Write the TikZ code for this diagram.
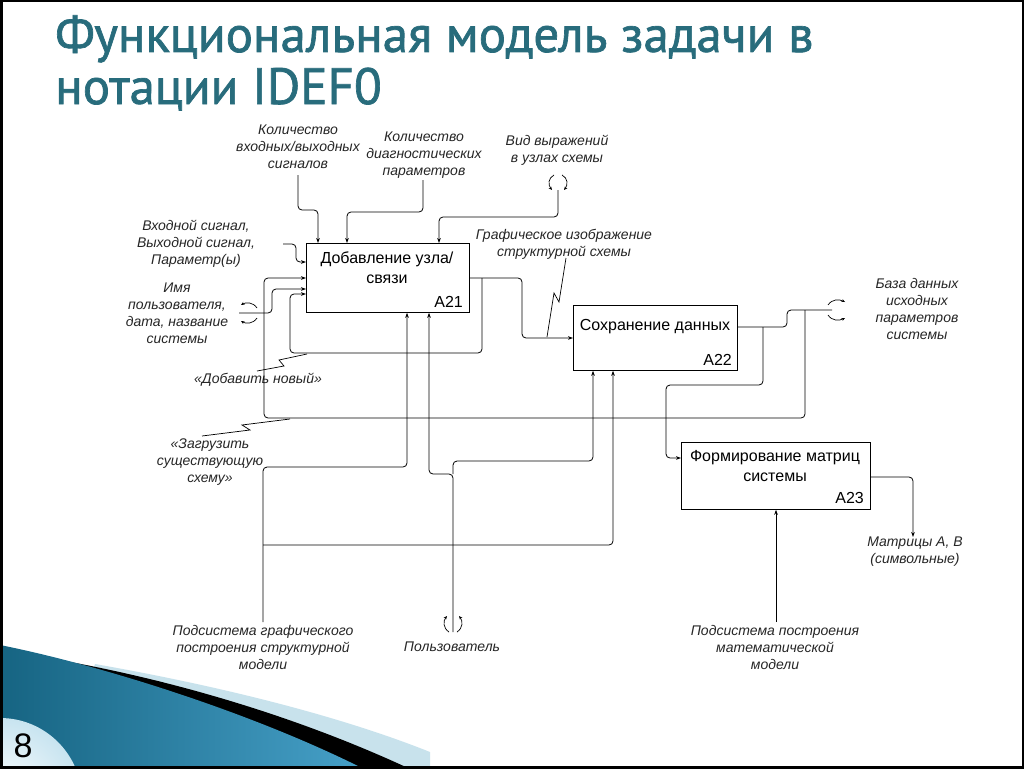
\documentclass[tikz,border=0pt]{standalone}
\usepackage{fontspec}
\setmainfont{Liberation Sans}
\newfontfamily\titlefont[FakeBold=1.3]{PT Sans}
\usetikzlibrary{arrows.meta}
\definecolor{titleteal}{RGB}{40,108,124}
\definecolor{palebl}{RGB}{200,226,236}
\definecolor{bluedark}{RGB}{22,100,130}
\definecolor{bluelight}{RGB}{70,160,200}
\definecolor{circpale}{RGB}{200,228,240}
\begin{document}
\begin{tikzpicture}[x=1pt,y=-1pt,
  ln/.style={line width=0.8pt, rounded corners=4pt},
  arr/.style={ln, -{Stealth[length=5pt,width=3.6pt]}},
  tun/.style={line width=0.7pt, -{Stealth[length=3.5pt,width=3pt]}},
  sq/.style={line width=0.7pt},
  box/.style={draw, line width=0.8pt, anchor=north west, inner sep=0pt},
  boxtxt/.style={font=\fontsize{16}{20}\selectfont, align=center, inner sep=0pt},
  boxnum/.style={font=\fontsize{16}{20}\selectfont, inner sep=0pt},
  lbl/.style={font=\itshape\fontsize{14}{17}\selectfont, align=center, inner sep=0pt, text=black!85},
  ttl/.style={font=\titlefont\fontsize{51}{55}\selectfont, text=titleteal, anchor=base west, inner sep=0pt}
]
\useasboundingbox (0,0) rectangle (1024,768);
\fill[white] (0,0) rectangle (1024,768);

% ---------- bottom-left decoration ----------
\fill[palebl] (95,664) .. controls (220,686) and (340,716) .. (430,752) -- (430,768) -- (60,768) -- cycle;
\fill[black] (65,661) .. controls (180,682) and (300,718) .. (408,768) -- (40,768) -- cycle;
\shade[left color=bluedark, right color=bluelight] (0,645) .. controls (100,665) and (250,712) .. (362,768) -- (0,768) -- cycle;
\begin{scope}
  \clip (0,0) rectangle (1024,768);
  \shade[inner color=white, outer color=circpale] (0,800) circle (82);
\end{scope}
\node[font=\fontsize{34}{38}\selectfont, inner sep=0pt] (pg) at (23,746) {8};
\draw[line width=5pt] (0,0) rectangle (1024,768);

% ---------- title ----------
\node[ttl] (t1) at (55,52) {Функциональная модель задачи в};
\node[ttl] (t2) at (55,104) {нотации IDEF0};

% ---------- boxes ----------
\node[box, minimum width=163pt, minimum height=69pt] (a21) at (306,243) {};
\node[box, minimum width=164pt, minimum height=65pt] (a22) at (573,305) {};
\node[box, minimum width=189pt, minimum height=67pt] (a23) at (681,442) {};
\node[boxtxt] (a21t) at (387,268) {Добавление узла/\\связи};
\node[boxnum, anchor=base east] (a21n) at (463,307) {A21};
\node[boxtxt] (a22t) at (655,327) {Сохранение данных};
\node[boxnum, anchor=base east] (a22n) at (732,365) {A22};
\node[boxtxt] (a23t) at (775,466) {Формирование матриц\\системы};
\node[boxnum, anchor=base east] (a23n) at (864,503) {A23};

% ---------- labels ----------
\node[lbl] (lA) at (298,147) {Количество\\входных/выходных\\сигналов};
\node[lbl] (lB) at (424,155) {Количество\\диагностических\\параметров};
\node[lbl] (lC) at (557,150) {Вид выражений\\в узлах схемы};
\node[lbl] (lD) at (196,244) {Входной сигнал,\\Выходной сигнал,\\Параметр(ы)};
\node[lbl] (lE) at (177,313) {Имя\\пользователя,\\дата, название\\системы};
\node[lbl] (lF) at (258,380) {«Добавить новый»};
\node[lbl] (lG) at (210,462) {«Загрузить\\существующую\\схему»};
\node[lbl] (lH) at (564,244) {Графическое изображение\\структурной схемы};
\node[lbl] (lI) at (917,309) {База данных\\исходных\\параметров\\системы};
\node[lbl] (lJ) at (915,552) {Матрицы A, B\\(символьные)};
\node[lbl] (lK) at (263,647) {Подсистема графического\\построения структурной\\модели};
\node[lbl] (lL) at (452,647) {Пользователь};
\node[lbl] (lM) at (775,647) {Подсистема построения\\математической\\модели};

% ---------- free ends ----------
\coordinate (cA) at (298,175);
\coordinate (cB) at (423,180);
\coordinate (cC) at (558,190);
\coordinate (iD) at (283,244);
\coordinate (iE) at (239,313);
\coordinate (oI) at (832,310);
\coordinate (oJ) at (913,537);
\coordinate (mK) at (263,622);
\coordinate (mL) at (453,632);
\coordinate (mM) at (776,622);
\coordinate (jA) at (482,278);
\coordinate (jB) at (805,310);
\coordinate (jC) at (763,327);
\coordinate (jD) at (263,545);
\coordinate (jE) at (453,474);

% ---------- controls of A21 ----------
\draw[arr] (cA) -- (298,210) -- (318,210) -- ([xshift=12pt]a21.north west);
\draw[arr] (cB) -- (423,212) -- (347,212) -- ([xshift=41pt]a21.north west);
\draw[arr] (cC) -- (558,217) -- (439,217) -- ([xshift=133pt]a21.north west);

% ---------- inputs of A21 ----------
\draw[arr] (iD) -- (296,244) -- (296,262) -- ([yshift=-19pt]a21.north west);
\draw[arr] (iE) -- (272,313) -- (272,289) -- ([yshift=-46pt]a21.north west);

% ---------- A21 -> A22 and "add new" loop ----------
\draw[arr] ([yshift=-35pt]a21.north east) -- (522,278) -- (522,338) -- ([yshift=-33pt]a22.north west);
\draw[arr] (jA) -- (482,353) -- (290,353) -- (290,294) -- ([yshift=-51pt]a21.north west);

% ---------- A22 output, "load" loop, A22 -> A23 ----------
\draw[ln] ([yshift=-22pt]a22.north east) -- (787,327) -- (787,310) -- (oI);
\draw[arr] (jB) -- (805,418) -- (264,418) -- (264,278) -- ([yshift=-35pt]a21.north west);
\draw[arr] (jC) -- (763,385) -- (666,385) -- (666,458) -- ([yshift=-16pt]a23.north west);

% ---------- A23 output ----------
\draw[arr] ([yshift=-35pt]a23.north east) -- (913,477) -- (oJ);

% ---------- mechanisms ----------
\draw[arr] (mK) -- (263,467) -- (407,467) -- ([xshift=101pt]a21.south west);
\draw[arr] (jD) -- (613,545) -- ([xshift=40pt]a22.south west);
\draw[arr] (mL) -- (453,474) -- (429,474) -- ([xshift=123pt]a21.south west);
\draw[arr] (jE) -- (453,461) -- (593,461) -- ([xshift=20pt]a22.south west);
\draw[arr] (mM) -- ([xshift=95pt]a23.south west);

% ---------- tunnels ----------
\draw[tun] (554,175) .. controls (548,178) and (548,185) .. (552,190);
\draw[tun] (562,175) .. controls (568,178) and (568,185) .. (564,190);
\draw[tun] (257,308) .. controls (253,302) and (246,302) .. (241,305);
\draw[tun] (257,318) .. controls (253,324) and (246,324) .. (241,321);
\draw[tun] (449,632) .. controls (443,628) and (443,621) .. (447,616);
\draw[tun] (457,632) .. controls (463,628) and (463,621) .. (459,616);
\draw[tun] (828,305) .. controls (832,299) and (839,299) .. (845,302);
\draw[tun] (828,315) .. controls (832,321) and (839,321) .. (845,318);

% ---------- squiggles ----------
\draw[sq] (566,258) -- (559,302) -- (554,293) -- (547,337);
\draw[sq] (257,371) -- (284,366) -- (279,360) -- (307,354);
\draw[sq] (202,436) -- (250,430) -- (242,425) -- (290,419);
\end{tikzpicture}
\end{document}
